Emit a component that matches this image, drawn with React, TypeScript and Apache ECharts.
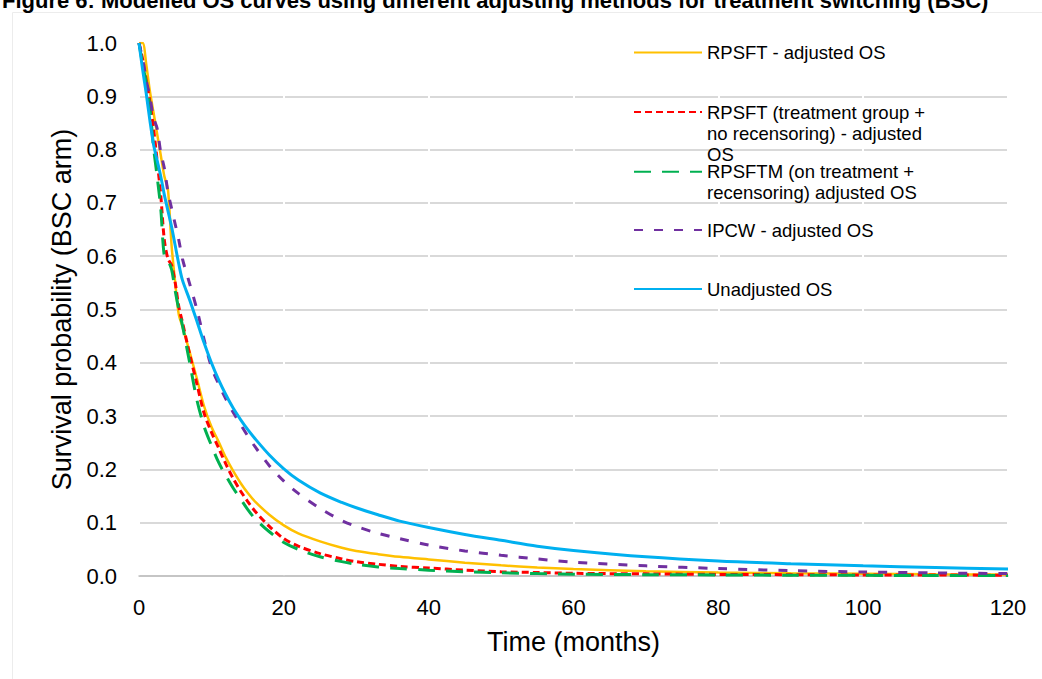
import { useEffect, useRef } from 'react'
import * as echarts from 'echarts'

// time points (months) shared by every curve
const TIMES = [0, 0.5, 1, 1.5, 2, 2.5, 3, 3.5, 4, 4.5, 5, 5.5, 6, 7, 8, 9, 10, 11, 12, 13, 14, 15, 16, 18, 20, 22, 25, 28, 30, 33, 36, 40, 45, 50, 55, 60, 70, 80, 90, 100, 110, 120]

const RPSFT = [1.0, 1.0, 0.96, 0.91, 0.87, 0.83, 0.79, 0.75, 0.725, 0.62, 0.55, 0.49, 0.468, 0.42, 0.37, 0.318, 0.28, 0.252, 0.222, 0.197, 0.175, 0.156, 0.14, 0.115, 0.095, 0.08, 0.065, 0.053, 0.047, 0.041, 0.036, 0.031, 0.025, 0.02, 0.016, 0.013, 0.009, 0.0065, 0.005, 0.004, 0.0032, 0.0026]
const RPSFT_TG = [1.0, 0.97, 0.93, 0.89, 0.84, 0.78, 0.715, 0.63, 0.595, 0.583, 0.55, 0.505, 0.476, 0.416, 0.36, 0.305, 0.27, 0.24, 0.21, 0.183, 0.16, 0.14, 0.122, 0.093, 0.07, 0.056, 0.042, 0.032, 0.027, 0.022, 0.018, 0.015, 0.011, 0.008, 0.0065, 0.005, 0.004, 0.003, 0.0025, 0.002, 0.0018, 0.0015]
const RPSFTM = [1.0, 0.96, 0.925, 0.88, 0.805, 0.75, 0.69, 0.6, 0.592, 0.575, 0.535, 0.5, 0.47, 0.4, 0.33, 0.28, 0.245, 0.213, 0.188, 0.165, 0.145, 0.125, 0.108, 0.083, 0.063, 0.05, 0.036, 0.027, 0.022, 0.017, 0.014, 0.011, 0.008, 0.006, 0.0045, 0.0035, 0.0025, 0.002, 0.0015, 0.0012, 0.001, 0.001]
const IPCW = [1.0, 0.97, 0.93, 0.9, 0.86, 0.84, 0.795, 0.765, 0.72, 0.69, 0.66, 0.63, 0.595, 0.548, 0.5, 0.443, 0.392, 0.36, 0.332, 0.307, 0.285, 0.263, 0.243, 0.207, 0.178, 0.155, 0.127, 0.104, 0.093, 0.08, 0.07, 0.058, 0.047, 0.039, 0.032, 0.026, 0.019, 0.014, 0.01, 0.0075, 0.0058, 0.0045]
const UNADJ = [1.0, 0.95, 0.905, 0.855, 0.81, 0.78, 0.75, 0.715, 0.685, 0.655, 0.62, 0.585, 0.555, 0.518, 0.478, 0.437, 0.4, 0.368, 0.34, 0.315, 0.294, 0.275, 0.258, 0.227, 0.201, 0.18, 0.156, 0.138, 0.128, 0.115, 0.103, 0.091, 0.078, 0.067, 0.056, 0.048, 0.036, 0.028, 0.023, 0.019, 0.016, 0.013]

const SERIES_NAMES = ['RPSFT - adjusted OS', 'RPSFT (treatment group + no recensoring) - adjusted OS', 'RPSFTM (on treatment + recensoring) adjusted OS', 'IPCW - adjusted OS', 'Unadjusted OS']
// legend text as wrapped in the figure; leading blank lines keep the key on the first line
const LEGEND_TEXT = ['RPSFT - adjusted OS', '\n\nRPSFT (treatment group +\nno recensoring) - adjusted\nOS', '\nRPSFTM (on treatment +\nrecensoring) adjusted OS', 'IPCW - adjusted OS', 'Unadjusted OS']
const LEGEND_TOP = [42, 59, 140, 219.5, 278.5]

const X_TICKS = [0, 20, 40, 60, 80, 100, 120]

const FONT = "'Liberation Sans', Arial, sans-serif"

export default function App() {
  const elRef = useRef<HTMLDivElement>(null)

  useEffect(() => {
    document.body.style.margin = '0'
    if (!elRef.current) return
    const chart = echarts.init(elRef.current, null, { renderer: 'svg' })
    const pair = (ys: number[]) => TIMES.map((t, i) => [t, ys[i]])
    const styles = [
      { color: '#FFC000', width: 2.5, type: 'solid' as const },
      { color: '#FF0000', width: 3, type: [7, 4] },
      { color: '#00B050', width: 3, type: [17, 11] },
      { color: '#7030A0', width: 3, type: [9, 11] },
      { color: '#00B0F0', width: 3, type: 'solid' as const },
    ]
    const values = [RPSFT, RPSFT_TG, RPSFTM, IPCW, UNADJ]
    // gridline at 1.0 is not drawn in the figure
    const gridColors = Array.from({ length: 11 }, (_, i) => (i === 10 ? 'rgba(0,0,0,0)' : '#d9d9d9'))

    chart.setOption({
      animation: false,
      backgroundColor: '#fff',
      textStyle: { fontFamily: FONT },
      graphic: [
        {
          type: 'rect',
          silent: true,
          z: -10,
          shape: { x: 12.5, y: 12.5, width: 1100, height: 800 },
          style: { fill: 'none', stroke: '#ececec', lineWidth: 1 },
        },
        {
          type: 'text',
          left: 2,
          top: -11,
          silent: true,
          style: {
            text: 'Figure 6: Modelled OS curves using different adjusting methods for treatment switching (BSC)',
            font: `bold 22px ${FONT}`,
            fill: '#000',
          },
        },
      ],
      grid: { left: 139, right: 34, top: 43, bottom: 103 },
      legend: SERIES_NAMES.map((name, i) => ({
        data: [name],
        left: 633,
        top: LEGEND_TOP[i],
        padding: 0,
        itemWidth: 68,
        itemHeight: 14,
        selectedMode: false,
        itemStyle: { opacity: 0, borderWidth: 0 },
        formatter: () => LEGEND_TEXT[i],
        textStyle: { fontSize: 18.5, lineHeight: 21.2, color: '#000', fontFamily: FONT },
      })),
      xAxis: {
        type: 'value',
        min: 0,
        max: 120,
        interval: 20,
        z: 1,
        name: 'Time (months)',
        nameLocation: 'middle',
        nameGap: 52,
        nameTextStyle: { fontSize: 27, color: '#000' },
        axisLine: { show: true, lineStyle: { color: '#bfbfbf', width: 1.5 } },
        axisTick: { show: false },
        axisLabel: {
          fontSize: 22,
          color: '#000',
          margin: 20,
          formatter: (v: number) => (X_TICKS.includes(v) ? String(v) : ''),
        },
        splitLine: { show: true, lineStyle: { color: '#ffffff', width: 2 } },
      },
      yAxis: {
        type: 'value',
        min: 0,
        max: 1,
        interval: 0.1,
        name: 'Survival probability (BSC arm)',
        nameLocation: 'middle',
        nameGap: 61,
        nameTextStyle: { fontSize: 27, color: '#000' },
        axisLine: { show: false },
        axisTick: { show: false },
        axisLabel: { fontSize: 22, color: '#000', margin: 22, formatter: (v: number) => v.toFixed(1) },
        splitLine: { show: true, lineStyle: { color: gridColors, width: 2 } },
      },
      series: SERIES_NAMES.map((name, i) => ({
        name,
        type: 'line',
        data: pair(values[i]),
        symbol: 'none',
        showSymbol: false,
        smooth: 0.3,
        clip: true,
        lineStyle: styles[i],
        itemStyle: { color: styles[i].color },
        z: 2 + i,
      })),
    })

    return () => chart.dispose()
  }, [])

  return <div ref={elRef} style={{ width: 1042, height: 679 }} />
}
